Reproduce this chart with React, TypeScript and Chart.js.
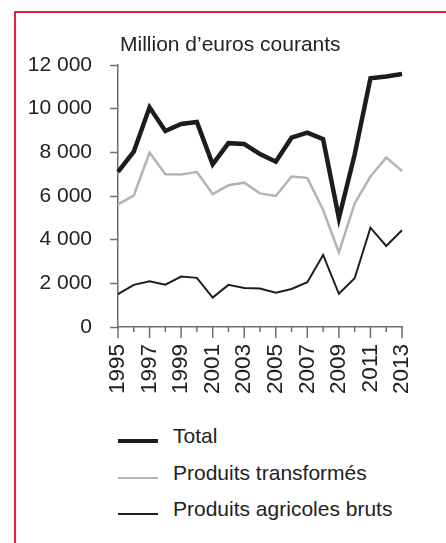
import React, { useEffect, useRef } from "react";
import { Chart, registerables } from "chart.js";

Chart.register(...registerables);

const years = ["1995","1996","1997","1998","1999","2000","2001","2002","2003","2004","2005","2006","2007","2008","2009","2010","2011","2012","2013"];
const total = [7100, 8030, 10060, 8980, 9300, 9390, 7450, 8420, 8380, 7920, 7570, 8670, 8900, 8600, 4980, 7900, 11390, 11470, 11590];
const transformes = [5620, 6020, 7990, 7000, 6990, 7100, 6090, 6490, 6610, 6120, 6000, 6890, 6830, 5360, 3420, 5660, 6890, 7760, 7150];
const bruts = [1510, 1930, 2090, 1940, 2310, 2250, 1350, 1930, 1790, 1760, 1570, 1740, 2050, 3300, 1520, 2230, 4550, 3710, 4430];
const yTicks = [0, 2000, 4000, 6000, 8000, 10000, 12000];

const seriesNames = ["Total", "Produits transformés", "Produits agricoles bruts"];
const seriesColors = ["#1c1c1c", "#b3b3b3", "#1e1e1e"];
const seriesWidths = [4.5, 2.5, 2];

const FONT = "'Liberation Sans', Arial, sans-serif";
const AXIS = "#6e6e6e";
const TEXT = "#222222";

const fmt = (v: number) => {
  const s = String(Math.round(v));
  return s.replace(/\B(?=(\d{3})+(?!\d))/g, " ");
};

const xTickPlugin = {
  id: "xTickMarks",
  afterDraw(chart: any) {
    const xs = chart.scales.x;
    const ctx = chart.ctx;
    ctx.save();
    ctx.strokeStyle = AXIS;
    ctx.lineWidth = 1.5;
    for (let i = 0; i < years.length; i++) {
      const x = xs.getPixelForTick(i);
      const len = i % 2 === 0 ? 11 : 5;
      ctx.beginPath();
      ctx.moveTo(x, xs.top);
      ctx.lineTo(x, xs.top + len);
      ctx.stroke();
    }
    ctx.restore();
  },
};

export default function App() {
  const ref = useRef<HTMLCanvasElement | null>(null);

  useEffect(() => {
    if (!ref.current) return;
    const data = [total, transformes, bruts];
    const chart = new Chart(ref.current, {
      type: "line",
      data: {
        labels: years,
        datasets: data.map((d, i) => ({
          label: seriesNames[i],
          data: d,
          borderColor: seriesColors[i],
          backgroundColor: seriesColors[i],
          borderWidth: seriesWidths[i],
          pointRadius: 0,
          tension: 0,
          borderJoinStyle: "miter" as const,
          fill: false,
        })),
      },
      options: {
        responsive: false,
        animation: false,
        layout: { padding: { top: 65, right: 15, left: 0, bottom: 0 } },
        plugins: { legend: { display: false }, tooltip: { enabled: false }, title: { display: false } },
        scales: {
          x: {
            type: "category",
            offset: false,
            grid: { display: false, drawTicks: false, tickLength: 0 },
            border: { display: true, color: AXIS, width: 1.5 },
            ticks: {
              autoSkip: false,
              minRotation: 90,
              maxRotation: 90,
              padding: 17,
              color: TEXT,
              font: { family: FONT, size: 22.5 },
              callback: (_v: any, i: number) => (i % 2 === 0 ? years[i] : ""),
            },
            afterFit: (s: any) => { s.height = 83; },
          },
          y: {
            min: 0,
            max: 12000,
            afterBuildTicks: (s: any) => { s.ticks = yTicks.map((v) => ({ value: v })); },
            grid: { drawOnChartArea: false, drawTicks: true, tickLength: 8, tickColor: AXIS, tickWidth: 1.5 },
            border: { display: true, color: AXIS, width: 1.5 },
            ticks: {
              padding: 18,
              color: TEXT,
              font: { family: FONT, size: 21 },
              callback: (v: any) => fmt(Number(v)),
            },
            afterFit: (s: any) => { s.width = 118; },
          },
        },
      },
      plugins: [xTickPlugin],
    });
    return () => chart.destroy();
  }, []);

  const legendRows = [
    { top: 441, text: 0 },
    { top: 478, text: 1 },
    { top: 514, text: 2 },
  ];

  return (
    <div style={{ position: "fixed", left: 0, top: 0, width: 446, height: 543, background: "#fff", overflow: "hidden", fontFamily: FONT }}>
      <div style={{ position: "absolute", left: 14, top: 11, width: 440, height: 540, borderTop: "2px solid #e3203f", borderLeft: "2px solid #e3203f" }} />
      <canvas ref={ref} width={446} height={410} style={{ position: "absolute", left: 0, top: 0 }} />
      <div style={{ position: "absolute", left: 120, top: 32, fontSize: 21, color: TEXT, whiteSpace: "nowrap", lineHeight: "24px" }}>
        Million d’euros courants
      </div>
      {legendRows.map((r) => (
        <React.Fragment key={r.text}>
          <div style={{ position: "absolute", left: 118, top: r.top - seriesWidths[r.text] / 2, width: 40, height: seriesWidths[r.text], background: seriesColors[r.text] }} />
          <div style={{ position: "absolute", left: 173, top: r.top - 17, fontSize: 21, lineHeight: "24px", color: TEXT, whiteSpace: "nowrap" }}>
            {seriesNames[r.text]}
          </div>
        </React.Fragment>
      ))}
    </div>
  );
}
